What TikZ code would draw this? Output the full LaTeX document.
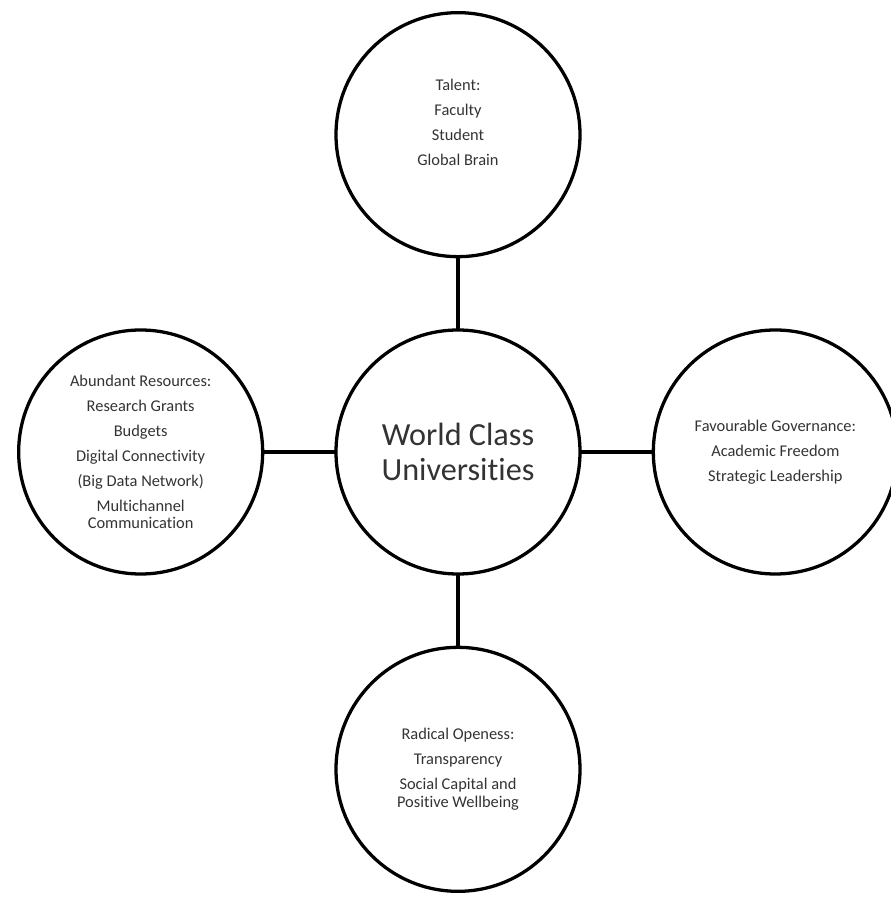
\documentclass[tikz,border=0pt]{standalone}
\usepackage{fontspec}
\setmainfont{Carlito}[Ligatures={NoCommon}]
\usepackage{tikz}
\usetikzlibrary{positioning}
\newcommand{\pillarfont}{\fontsize{14}{15.3}\selectfont}
\newcommand{\hubfont}{\fontsize{27.5}{30.6}\selectfont}

\begin{document}
\begin{tikzpicture}[
        node distance=2.2cm,
        pillar/.style={
          circle,
          draw=black,
          text=black!80,
          minimum size=7.32cm,
          inner sep=0pt,
          outer sep=0pt,
          align=center,
          font=\pillarfont,
          line width=2.8pt,
        },
        hub/.style={pillar, font=\hubfont},
        link/.style={black, line width=2.8pt},
      ]
        \useasboundingbox (-13.74,-13.35) rectangle (12.96,13.56);
        \node[hub] (wcu) {World Class\\Universities};
        \node[pillar, above=of wcu] (talent) {Talent:\\[6pt]Faculty\\[6pt]Student\\[6pt]Global Brain\\[6pt]\mbox{}};
        \node[pillar, left=of wcu] (resources) {Abundant Resources:\\[6pt]Research Grants\\[6pt]Budgets\\[6pt]Digital Connectivity\\[6pt](Big Data Network)\\[6pt]Multichannel\\Communication};
        \node[pillar, right=of wcu] (governance) {Favourable Governance:\\[6pt]Academic Freedom\\[6pt]Strategic Leadership};
        \node[pillar, below=of wcu] (openness) {Radical Openess:\\[6pt]Transparency\\[6pt]Social Capital and\\Positive Wellbeing};

        \draw[link] (wcu) -- (talent);
        \draw[link] (wcu) -- (resources);
        \draw[link] (wcu) -- (governance);
        \draw[link] (wcu) -- (openness);
      \end{tikzpicture}
\end{document}
